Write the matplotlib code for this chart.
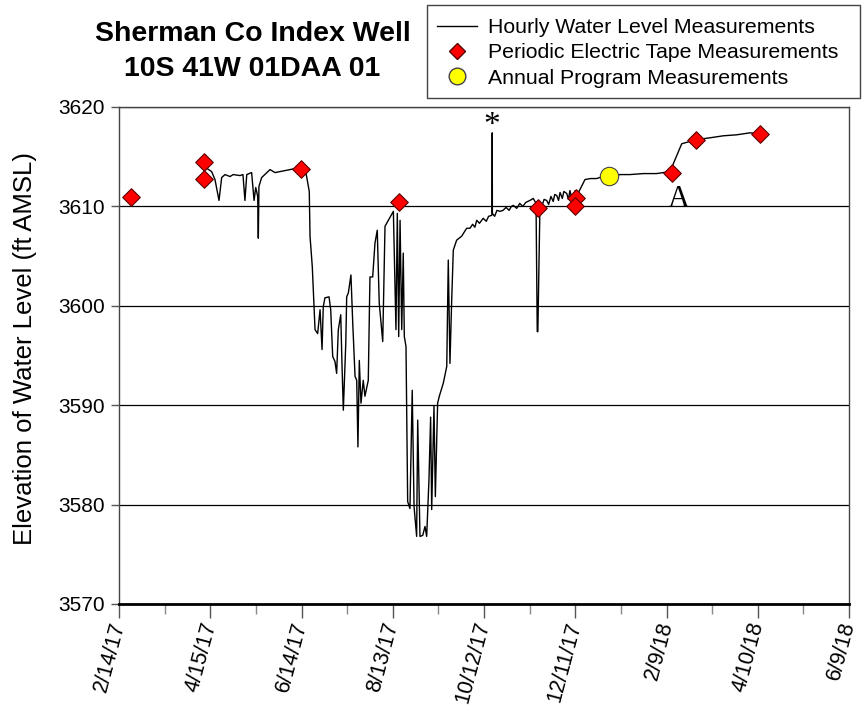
import matplotlib
matplotlib.use("Agg")
import matplotlib.pyplot as plt
import matplotlib.dates as mdates
import matplotlib.ticker as mticker
import matplotlib.transforms as mtransforms
from matplotlib.lines import Line2D
from matplotlib.patches import Rectangle
import pandas as pd

plt.rcParams['font.family'] = ['Liberation Sans', 'DejaVu Sans']

START = pd.Timestamp('2017-02-14')

# hourly transducer record (days since 2/14/17, ft AMSL)
hourly_days = [
    56.1, 60.9, 63.1, 65.75, 67.5, 69.7, 73.0, 75.0, 79.6, 81.5, 82.8, 84.0,
    87.2, 88.8, 89.9, 91.2, 91.6, 92.0, 93.8, 99.3, 102.6, 109.1, 115.7, 119.7,
    122.9, 125.1, 125.6, 127.1, 128.9, 130.6, 132.2, 133.5, 134.3, 135.4, 138.1,
    139.2, 140.5, 142.0, 143.1, 144.2, 145.8, 146.6, 147.5, 149.1, 149.7, 150.8,
    152.5, 153.7, 155.2, 156.3, 157.1, 158.0, 159.1, 160.6, 161.7, 163.9, 165.0,
    166.8, 168.3, 169.8, 171.1, 173.4, 174.9, 177.1, 180.4, 182.1, 183.0, 183.9,
    184.8, 185.9, 186.9, 187.6, 188.7, 189.8, 191.3, 192.8, 194.0, 195.7, 196.4,
    197.9, 199.7, 201.2, 202.3, 203.8, 204.9, 205.6, 207.1, 208.0, 209.5, 210.6,
    213.2, 215.5, 216.5, 217.6, 218.7, 219.8, 222.0, 225.3, 228.6, 230.8, 232.5,
    234.0, 235.2, 237.0, 239.5, 241.5, 243.0, 245.1, 245.3, 245.4, 245.5, 247.0,
    248.5, 250.5, 252.5, 254.5, 256.5, 258.0, 259.3, 261.5, 263.5, 265.5, 267.5,
    270.2, 272.4, 274.2, 275.0, 275.4, 276.8, 278.0, 279.5, 281.2, 282.5, 284.0,
    285.5, 286.5, 287.8, 289.0, 290.0, 291.5, 292.5, 294.4, 295.5, 296.5, 297.5,
    298.8, 300.0, 301.5, 303.1, 306.4, 310.0, 314.1, 318.0, 322.4, 325.0, 329.4,
    336.0, 344.7, 353.5, 362.3, 365.6, 370.0, 379.2, 388.6, 397.3, 406.1, 414.9,
    421.7,
]
hourly_level = [
    3614.0, 3613.5, 3612.7, 3610.6, 3612.9, 3613.2, 3613.0, 3613.2, 3613.1, 3613.2, 3610.6, 3613.2,
    3613.4, 3610.6, 3611.9, 3611.0, 3606.8, 3612.0, 3612.9, 3613.7, 3613.4, 3613.6, 3613.8, 3613.9,
    3613.4, 3611.5, 3607.0, 3603.9, 3597.6, 3597.2, 3599.6, 3595.6, 3599.9, 3600.8, 3600.9,
    3599.6, 3594.9, 3594.4, 3593.2, 3597.6, 3599.1, 3594.2, 3589.5, 3596.2, 3600.9, 3601.3,
    3603.1, 3598.2, 3592.9, 3592.5, 3585.8, 3594.5, 3590.2, 3592.5, 3590.9, 3592.5, 3602.9,
    3602.9, 3606.3, 3607.6, 3600.3, 3596.4, 3608.0, 3608.6, 3609.5, 3597.6, 3609.3, 3596.9,
    3608.6, 3597.6, 3605.3, 3596.9, 3595.9, 3580.3, 3579.6, 3591.5, 3579.8, 3576.8, 3588.5,
    3576.8, 3576.9, 3577.8, 3576.8, 3582.5, 3588.8, 3579.5, 3589.9, 3580.8, 3590.2, 3590.9,
    3592.2, 3593.9, 3604.6, 3594.2, 3600.3, 3605.6, 3606.6, 3607.0, 3607.8, 3607.8, 3608.2,
    3607.9, 3608.6, 3608.3, 3608.8, 3608.5, 3609.0, 3609.1, 3609.3, 3617.4, 3609.3, 3609.0,
    3609.6, 3609.5, 3609.6, 3609.9, 3609.6, 3610.0, 3610.1, 3609.8, 3610.3, 3610.0, 3610.4,
    3610.6, 3610.8, 3610.3, 3597.4, 3597.4, 3610.3, 3610.0, 3610.7, 3610.6, 3610.2, 3611.0,
    3610.5, 3611.2, 3611.1, 3610.6, 3611.4, 3610.8, 3611.5, 3611.3, 3610.7, 3611.6, 3610.9,
    3611.1, 3611.6, 3611.2, 3611.7, 3612.7, 3612.8, 3612.8, 3613.0, 3613.1, 3613.0, 3613.2,
    3613.2, 3613.3, 3613.3, 3613.5, 3614.7, 3616.3, 3616.7, 3616.9, 3617.1, 3617.2, 3617.4,
    3617.3,
]

# periodic electric tape measurements
tape_days = [7.9, 55.9, 55.9, 119.7, 184.1, 275.7, 300.5, 300.0, 363.8, 379.2, 421.7]
tape_level = [3610.9, 3614.5, 3612.8, 3613.8, 3610.4, 3609.8, 3610.8, 3610.0, 3613.4, 3616.7, 3617.3]

# annual program measurement
annual_days = [322.4]
annual_level = [3613.1]

xtick_days = [0, 60, 120, 180, 240, 300, 360, 420, 480]


def to_dates(days):
    return START + pd.to_timedelta(days, unit='D')


fig = plt.figure(figsize=(8.63, 7.08), dpi=100)
ax = fig.add_axes([0.1379, 0.1469, 0.8459, 0.7020])

ax.plot(to_dates(hourly_days), hourly_level, color='black', linewidth=1.0, zorder=3)
ax.scatter(to_dates(tape_days), tape_level, marker='D', s=80, facecolor='red',
           edgecolor='#5a0000', linewidth=0.8, zorder=5)
ax.scatter(to_dates(annual_days), annual_level, marker='o', s=175, facecolor='yellow',
           edgecolor='#444444', linewidth=0.8, zorder=5)

ax.set_xlim(to_dates([0])[0], to_dates([480])[0])
ax.set_ylim(3570, 3620)
ax.set_yticks(range(3570, 3621, 10))
ax.yaxis.grid(True, color='black', linewidth=0.9)
ax.set_axisbelow(True)

ax.set_xticks(to_dates(xtick_days))
ax.set_xticks(to_dates([d + 30 for d in xtick_days[:-1]]), minor=True)
ax.xaxis.set_major_formatter(mticker.FuncFormatter(
    lambda v, p: (lambda d: f"{d.month}/{d.day}/{d.strftime('%y')}")(mdates.num2date(v))))
shift = mtransforms.ScaledTranslation(7 / 100, 0, fig.dpi_scale_trans)
for lab in ax.get_xticklabels():
    lab.set_rotation(75)
    lab.set_ha('right')
    lab.set_va('center')
    lab.set_rotation_mode('anchor')
    lab.set_fontsize(15.5)
    lab.set_transform(lab.get_transform() + shift)
ax.tick_params(axis='x', which='major', length=10, width=1, color='#555555', pad=3)
ax.tick_params(axis='x', which='minor', length=7, width=1, color='#888888')
ax.tick_params(axis='y', length=6, width=1, labelsize=15, color='#555555', pad=4)

for s in ['left', 'top', 'right']:
    ax.spines[s].set_color('#444444')
    ax.spines[s].set_linewidth(1.0)
ax.spines['bottom'].set_linewidth(2.0)

ax.set_ylabel('Elevation of Water Level (ft AMSL)', fontsize=18.5)
ax.yaxis.set_label_coords(-0.112, 0.515)

ax.text(to_dates([245.4])[0], 3616.6, '*', family=['Liberation Serif', 'DejaVu Serif'],
        fontsize=24, ha='center', va='bottom')
ax.text(to_dates([368.0])[0], 3609.2, 'A', family=['Liberation Serif', 'DejaVu Serif'],
        fontsize=22, ha='center', va='bottom')

fig.text(0.2926, 0.927, 'Sherman Co Index Well\n10S 41W 01DAA 01', ha='center', va='center',
         fontsize=20.5, fontweight='bold', linespacing=1.45)

# legend: frame drawn as its own box, entries placed inside it
fig.patches.append(Rectangle((427 / 863, 1 - 98 / 708), 433 / 863, 93 / 708,
                             transform=fig.transFigure, facecolor='white',
                             edgecolor='#444444', linewidth=1.0, zorder=1))
handles = [
    Line2D([], [], color='black', linewidth=1.0),
    Line2D([], [], marker='D', linestyle='none', markersize=8, markerfacecolor='red',
           markeredgecolor='#5a0000'),
    Line2D([], [], marker='o', linestyle='none', markersize=12, markerfacecolor='yellow',
           markeredgecolor='#444444'),
]
labels = ['Hourly Water Level Measurements', 'Periodic Electric Tape Measurements',
          'Annual Program Measurements']
leg = fig.legend(handles, labels, loc='upper left', bbox_to_anchor=(437 / 863, 1 - 18 / 708),
                 fontsize=15.3, frameon=False, handlelength=1.9, handletextpad=0.5,
                 labelspacing=0.3, borderpad=0.0, borderaxespad=0.0)
leg.set_zorder(2)

fig.savefig('out.png', dpi=100)
